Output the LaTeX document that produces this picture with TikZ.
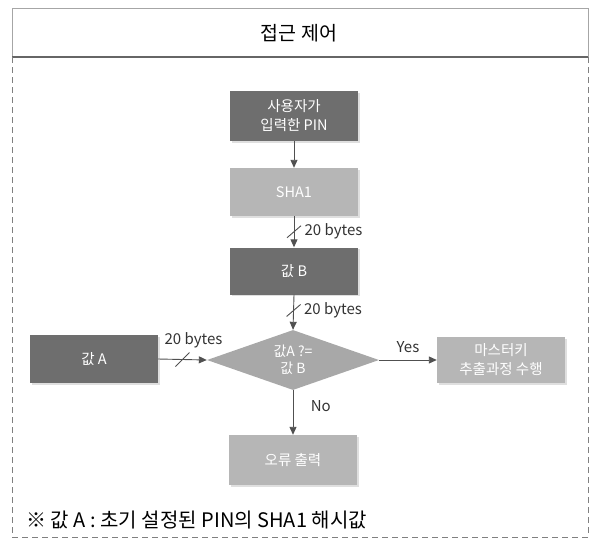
\documentclass[tikz,border=0pt]{standalone}
\usepackage{fontspec}
\setmainfont{Noto Sans CJK KR}
\usetikzlibrary{shapes.geometric,arrows.meta,calc,shadows}
\definecolor{darkbox}{HTML}{6E6E6E}
\definecolor{lightbox}{HTML}{B6B6B6}
\definecolor{diabox}{HTML}{A8A8A8}
\definecolor{linecol}{HTML}{505050}
\tikzset{
  box/.style={rectangle, minimum width=128pt, minimum height=48pt, inner sep=0pt,
    text=white, font=\fontsize{14.5}{19}\selectfont, align=center,
    drop shadow={shadow xshift=1.5pt, shadow yshift=-1.5pt, opacity=0.25}},
  darkb/.style={box, fill=darkbox},
  lightb/.style={box, fill=lightbox},
  decision/.style={diamond, aspect=2.9, inner sep=0pt, minimum width=172pt, minimum height=60pt,
    fill=diabox, text=white, font=\fontsize{14}{17}\selectfont, align=center},
  conn/.style={draw=linecol, line width=0.9pt, -{Triangle[length=8pt,width=7pt]}},
  lbl/.style={font=\fontsize{15}{17}\selectfont, text=black!80},
  slashmark/.style={draw=linecol, line width=0.9pt}
}
\begin{document}
\begin{tikzpicture}[x=1pt,y=-1pt]
\useasboundingbox (0,0) rectangle (593,541);
% frame
\draw[gray!70, line width=0.6pt] (12,8) rectangle (588,57);
\draw[gray!80!black, line width=1.4pt] (12,57) -- (588,57);
\node[font=\fontsize{19.5}{22}\selectfont] (title) at (299,33) {접근 제어};
\draw[gray, line width=0.8pt, dash pattern=on 6pt off 4pt] (12,57) -- (12,537) -- (588,537) -- (588,57);
% nodes
\node[darkb, minimum height=50pt] (in) at (294,116) {사용자가\\입력한 PIN};
\node[lightb] (sha) at (294,192) {SHA1};
\node[darkb, minimum height=47pt] (vb) at (294,271) {값 B};
\node[decision] (dia) at (293,360) {값A ?=\\값 B};
\node[darkb] (va) at (94,359) {값 A};
\node[lightb, minimum height=46pt] (mk) at (501,360) {마스터키\\추출과정 수행};
\node[lightb, minimum height=50pt] (err) at (293,460) {오류 출력};
% connectors
\draw[conn] (in.south) -- (sha.north);
\draw[conn] (sha.south) -- coordinate[pos=0.5] (m1) (vb.north);
\draw[slashmark] ($(m1)+(-7,6)$) -- ($(m1)+(7,-6)$);
\node[lbl, anchor=west] (l1) at ($(m1)+(7,0)$) {20 bytes};
\draw[conn] (vb.south) -- coordinate[pos=0.45] (m2) (dia.north);
\draw[slashmark] ($(m2)+(-7,6)$) -- ($(m2)+(7,-6)$);
\node[lbl, anchor=west] (l2) at ($(m2)+(7,0)$) {20 bytes};
\draw[conn] (va.east) -- coordinate[pos=0.5] (m3) (dia.west);
\draw[slashmark] ($(m3)+(-7,7)$) -- ($(m3)+(7,-7)$);
\node[lbl, anchor=south] (l3) at ($(m3)+(11,-8)$) {20 bytes};
\draw[conn] (dia.east) -- node[lbl, above=4pt] (yes) {Yes} (mk.west);
\draw[conn] (dia.south) -- node[lbl, right=14pt, pos=0.35] (no) {No} (err.north);
% footnote
\node[anchor=west, font=\fontsize{20}{22}\selectfont] (note) at (23,520) {※ 값 A : 초기 설정된 PIN의 SHA1 해시값};
\end{tikzpicture}
\end{document}
